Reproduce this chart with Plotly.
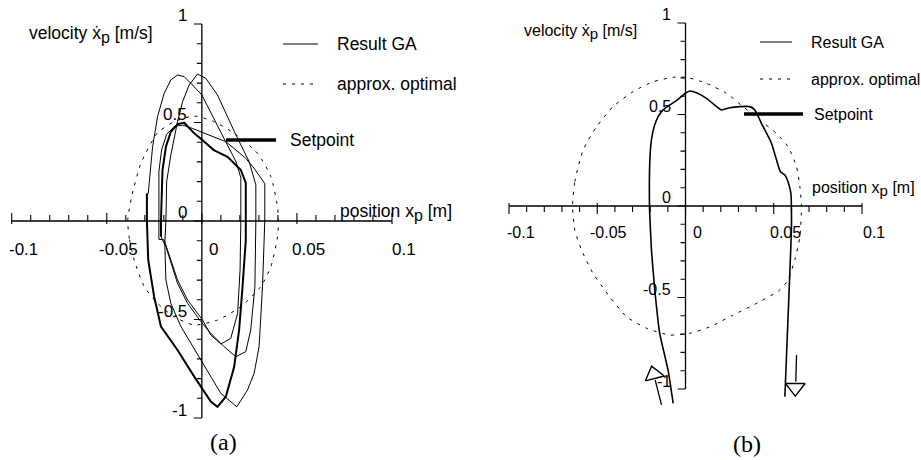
import plotly.graph_objects as go

W, H = 921, 460

# ---------------- data: panel (a) ----------------
# thick part of the GA trajectory (first loop)
a_thick_x = [-0.0215, -0.0215, -0.0207, -0.0189, -0.0163, -0.0128, -0.0093, -0.0040, 0.0004, 0.0063,
             0.0135, 0.0205, 0.0231, 0.0232, 0.0231, 0.0214, 0.0196, 0.0170, 0.0126, 0.0082,
             0.0047, -0.0040, -0.0128, -0.0215, -0.0251, -0.0282, -0.0289, -0.0289]
a_thick_y = [-0.08, 0.0, 0.259, 0.377, 0.453, 0.492, 0.499, 0.445, 0.410, 0.360,
             0.326, 0.259, 0.193, 0.0, -0.10, -0.333, -0.553, -0.740, -0.892, -0.943,
             -0.917, -0.790, -0.655, -0.536, -0.384, -0.198, 0.0, 0.14]
# thin continuation of the GA trajectory
a_thin_x = [-0.0289, -0.0282, -0.0259, -0.0233, -0.0198, -0.0163, -0.0128, -0.0093, -0.0058, 0.0000,
            0.0100, 0.0180, 0.0205, 0.0205, 0.0201, 0.0188, 0.0152, 0.0100, 0.0047, 0.0004,
            -0.0075, -0.0128, -0.0163, -0.0189, -0.0198, -0.0226, -0.0226, -0.0226, -0.0212, -0.0185,
            -0.0145, -0.0101, -0.0050, 0.0020, 0.0080, 0.0126, 0.0179, 0.0231, 0.0275, 0.0310,
            0.0331, 0.0331, 0.0319, 0.0301, 0.0275, 0.0240, 0.0184, 0.0100, -0.0005, -0.0110,
            -0.0163, -0.0189, -0.0195, -0.0189, -0.0185, -0.0163, -0.0128, -0.0101, -0.0067, -0.0023,
            0.0021, 0.0056, 0.0082, 0.0179, 0.0249, 0.0284, 0.0284, 0.0279, 0.0257, 0.0231,
            0.0179, 0.0117, 0.0047, -0.0005, -0.0075, -0.0128, -0.0163, -0.0189, -0.0207, -0.0215]
a_thin_y = [0.14, 0.14, 0.377, 0.530, 0.648, 0.716, 0.741, 0.733, 0.699, 0.640,
            0.450, 0.300, 0.220, 0.0, -0.249, -0.469, -0.596, -0.624, -0.579, -0.503,
            -0.401, -0.299, -0.198, -0.122, -0.096, -0.093, 0.0, 0.250, 0.360, 0.440,
            0.480, 0.487, 0.470, 0.445, 0.420, 0.403, 0.360, 0.318, 0.267, 0.220,
            0.190, 0.0, -0.333, -0.638, -0.773, -0.858, -0.943, -0.875, -0.706, -0.536,
            -0.418, -0.300, -0.113, 0.0, 0.200, 0.335, 0.504, 0.606, 0.690, 0.746,
            0.724, 0.673, 0.640, 0.437, 0.301, 0.183, 0.0, -0.333, -0.553, -0.663,
            -0.689, -0.638, -0.570, -0.511, -0.418, -0.316, -0.215, -0.130, -0.096, -0.08]
# approx. optimal trajectory (a)
a_opt_x = [-0.0390, -0.0380, -0.0356, -0.0303, -0.0233, -0.0146, -0.0040, 0.0082, 0.0205, 0.0310,
           0.0363, 0.0398, 0.0403, 0.0398, 0.0363, 0.0293, 0.0170, 0.0065, -0.0040, -0.0146,
           -0.0233, -0.0320, -0.0370, -0.0390]
a_opt_y = [0.0, -0.096, -0.198, -0.333, -0.418, -0.486, -0.528, -0.503, -0.435, -0.333,
           -0.232, -0.080, 0.0, 0.073, 0.225, 0.344, 0.445, 0.504, 0.533, 0.504,
           0.447, 0.294, 0.120, 0.0]

# ---------------- data: panel (b) ----------------
b_ga_x = [-0.0070, -0.0099, -0.0146, -0.0174, -0.0193, -0.0202, -0.0204, -0.0202, -0.0193, -0.0178,
          -0.0155, -0.0127, -0.0089, -0.0042, 0.0000, 0.0024, 0.0062, 0.0119, 0.0176, 0.0204,
          0.0251, 0.0308, 0.0364, 0.0393, 0.0430, 0.0487, 0.0516, 0.0538, 0.0563, 0.0581,
          0.0597, 0.0600, 0.0600, 0.0591, 0.0563]
b_ga_y = [-1.078, -0.896, -0.696, -0.459, -0.240, -0.058, 0.0, 0.251, 0.361, 0.433,
          0.488, 0.525, 0.552, 0.583, 0.616, 0.628, 0.619, 0.588, 0.543, 0.525,
          0.537, 0.543, 0.543, 0.525, 0.452, 0.343, 0.251, 0.187, 0.169, 0.133,
          0.069, 0.0, -0.131, -0.368, -1.042]
b_opt_x = [-0.0640, -0.0627, -0.0580, -0.0504, -0.0410, -0.0297, -0.0184, -0.0070, 0.0006, 0.0119,
           0.0232, 0.0326, 0.0421, 0.0515, 0.0581, 0.0629, 0.0648, 0.0657, 0.0648, 0.0619,
           0.0581, 0.0534, 0.0421, 0.0270, 0.0138, 0.0024, -0.0089, -0.0221, -0.0334, -0.0429,
           -0.0524, -0.0589, -0.0627, -0.0640]
b_opt_y = [0.0, 0.133, 0.306, 0.433, 0.543, 0.625, 0.679, 0.703, 0.703, 0.670,
           0.616, 0.543, 0.470, 0.397, 0.324, 0.215, 0.105, 0.0, -0.168, -0.295,
           -0.404, -0.459, -0.523, -0.596, -0.660, -0.696, -0.705, -0.668, -0.605, -0.496,
           -0.368, -0.240, -0.131, 0.0]
# direction arrows (b): shaft start, shaft end, head position
b_arrow_up_x = [-0.0136, -0.0172]
b_arrow_up_y = [-1.087, -0.950]
b_arrow_up_head = (-0.0180, -0.9200)
b_arrow_dn_x = [0.0629, 0.0625]
b_arrow_dn_y = [-0.814, -0.960]
b_arrow_dn_head = (0.0622, -0.993)

# ---------------- axes ticks ----------------
x_major = [-0.1, -0.05, 0.0, 0.05, 0.1]
x_major_labels = ["-0.1", "-0.05", "0", "0.05", "0.1"]
y_major = [-1.0, -0.5, 0.0, 0.5, 1.0]
y_major_labels = ["-1", "-0.5", "0", "0.5", "1"]
x_minor = [round(-0.1 + 0.01 * i, 2) for i in range(21)]
y_minor = [round(-1.0 + 0.1 * i, 1) for i in range(21)]

# ---------------- layout geometry (pixels) ----------------
panels = {
    "a": dict(xl=11.7, xr=392.0, yt=24.0, yb=418.0, xdir=1, xlab_dy=29, tick_font=17, xa="x", ya="y"),
    "b": dict(xl=509.0, xr=862.0, yt=23.0, yb=389.0, xdir=-1, xlab_dy=27, tick_font=16, xa="x2", ya="y2"),
}
XR = (-0.106, 0.106)
YR = (-1.16, 1.06)

FONT = "Liberation Sans, Arial, sans-serif"
fig = go.Figure()
layout_axes = {}
annotations = []

for key, p in panels.items():
    sx = (p["xr"] - p["xl"]) / 0.2      # px per x-unit
    sy = (p["yb"] - p["yt"]) / 2.0      # px per y-unit
    x0px = p["xl"] + (XR[0] + 0.1) * sx
    x1px = p["xl"] + (XR[1] + 0.1) * sx
    y1px = p["yt"] - (YR[1] - 1.0) * sy
    y0px = p["yt"] + (1.0 - YR[0]) * sy
    idx = "" if key == "a" else "2"
    layout_axes["xaxis" + idx] = dict(domain=[x0px / W, x1px / W], range=list(XR), visible=False,
                                      anchor="y" + idx, fixedrange=True)
    layout_axes["yaxis" + idx] = dict(domain=[1 - y0px / H, 1 - y1px / H], range=list(YR), visible=False,
                                      anchor="x" + idx, fixedrange=True)
    xa, ya = p["xa"], p["ya"]
    # axis lines
    fig.add_trace(go.Scatter(x=[-0.1, 0.1], y=[0, 0], mode="lines", xaxis=xa, yaxis=ya,
                             line=dict(color="black", width=1.3), hoverinfo="skip", showlegend=False))
    fig.add_trace(go.Scatter(x=[0, 0], y=[-1, 1], mode="lines", xaxis=xa, yaxis=ya,
                             line=dict(color="black", width=1.3), hoverinfo="skip", showlegend=False))
    # ticks
    tx, ty = [], []
    for t in x_minor:
        major = any(abs(t - m) < 1e-9 for m in x_major)
        up = (8 if major else 6) / sy
        dn = (3 if major else 0) / sy
        tx += [t, t, None]
        ty += [p["xdir"] * up, -p["xdir"] * dn, None]
    for t in y_minor:
        major = any(abs(t - m) < 1e-9 for m in y_major)
        ln = (8 if major else 5) / sx
        tx += [0, -ln, None]
        ty += [t, t, None]
    fig.add_trace(go.Scatter(x=tx, y=ty, mode="lines", xaxis=xa, yaxis=ya,
                             line=dict(color="black", width=1.1), hoverinfo="skip", showlegend=False))
    # tick labels
    for t, lab in zip(x_major, x_major_labels):
        annotations.append(dict(x=t, y=0, xref=xa, yref=ya, text=lab, showarrow=False,
                                xanchor="center", yanchor="middle", xshift=11.5, yshift=-p["xlab_dy"],
                                font=dict(family=FONT, size=p["tick_font"], color="black")))
    for t, lab in zip(y_major, y_major_labels):
        annotations.append(dict(x=0, y=t, xref=xa, yref=ya, text=lab, showarrow=False,
                                xanchor="right", yanchor="middle", xshift=-13, yshift=8,
                                font=dict(family=FONT, size=p["tick_font"], color="black")))

# ---------------- traces ----------------
fig.add_trace(go.Scatter(x=a_opt_x, y=a_opt_y, mode="lines", xaxis="x", yaxis="y",
                         line=dict(color="black", width=1, dash="3px,6px", shape="spline", smoothing=0.6),
                         hoverinfo="skip", showlegend=False))
fig.add_trace(go.Scatter(x=a_thin_x, y=a_thin_y, mode="lines", xaxis="x", yaxis="y",
                         line=dict(color="black", width=1), hoverinfo="skip", showlegend=False))
fig.add_trace(go.Scatter(x=a_thick_x, y=a_thick_y, mode="lines", xaxis="x", yaxis="y",
                         line=dict(color="black", width=2), hoverinfo="skip", showlegend=False))

fig.add_trace(go.Scatter(x=b_opt_x, y=b_opt_y, mode="lines", xaxis="x2", yaxis="y2",
                         line=dict(color="black", width=1, dash="3px,6px", shape="spline", smoothing=0.6),
                         hoverinfo="skip", showlegend=False))
fig.add_trace(go.Scatter(x=b_ga_x, y=b_ga_y, mode="lines", xaxis="x2", yaxis="y2",
                         line=dict(color="black", width=1.6, shape="spline", smoothing=0.5),
                         hoverinfo="skip", showlegend=False))
for sxs, sys_, head, sym in [(b_arrow_up_x, b_arrow_up_y, b_arrow_up_head, ("triangle-up-open", -14.6)),
                             (b_arrow_dn_x, b_arrow_dn_y, b_arrow_dn_head, ("triangle-down-open", 0))]:
    fig.add_trace(go.Scatter(x=sxs, y=sys_, mode="lines", xaxis="x2", yaxis="y2",
                             line=dict(color="black", width=1.3), hoverinfo="skip", showlegend=False))
    fig.add_trace(go.Scatter(x=[head[0]], y=[head[1]], mode="markers", xaxis="x2", yaxis="y2",
                             marker=dict(symbol=sym[0], angle=sym[1], size=17, color="black",
                                         line=dict(color="black", width=1.4)),
                             hoverinfo="skip", showlegend=False))

# ---------------- legends / labels (pixel positions) ----------------
def P(px, py):
    return px / W, 1 - py / H

shapes = []
def hline(x0, x1, y, width=1, dash=None):
    a0 = P(x0, y); a1 = P(x1, y)
    ln = dict(color="black", width=width)
    if dash:
        ln["dash"] = dash
    shapes.append(dict(type="line", xref="paper", yref="paper", x0=a0[0], y0=a0[1], x1=a1[0], y1=a1[1], line=ln))

def text(px, py, s, anchor="left", size=16, family=FONT):
    x, y = P(px, py)
    annotations.append(dict(x=x, y=y, xref="paper", yref="paper", text=s, showarrow=False,
                            xanchor=anchor, yanchor="middle", font=dict(family=family, size=size, color="black")))

def subp(size):
    return "<sub><span style='font-size:%dpx'>p</span></sub>" % size

SERIF = "Liberation Serif, Times New Roman, serif"
# panel (a)
FA = 17.5
hline(283, 318, 44)
hline(283, 318, 84, dash="3px,6px")
hline(226, 276, 140, width=3.5)
text(335, 44, "Result GA", size=FA)
text(335, 84, "approx. optimal", size=FA)
text(288, 140, "Setpoint", size=FA)
text(27, 34, "velocity ẋ" + subp(16) + " [m/s]", size=FA)
text(454, 212, "position x" + subp(16) + " [m]", anchor="right", size=FA)
text(223, 442, "(a)", anchor="center", size=24, family=SERIF)
# panel (b)
FB = 16
hline(760, 792, 42)
hline(760, 792, 79, dash="3px,6px")
hline(744, 803, 114, width=3.5)
text(809, 42, "Result GA", size=FB)
text(809, 79, "approx. optimal", size=FB)
text(812, 114, "Setpoint", size=FB)
text(522, 32, "velocity ẋ" + subp(15) + " [m/s]", size=FB)
text(917, 189, "position x" + subp(15) + " [m]", anchor="right", size=FB)
text(747, 444, "(b)", anchor="center", size=24, family=SERIF)

fig.update_layout(width=W, height=H, margin=dict(l=0, r=0, t=0, b=0),
                  paper_bgcolor="white", plot_bgcolor="rgba(0,0,0,0)",
                  showlegend=False, annotations=annotations, shapes=shapes, **layout_axes)
fig.write_html("out.html", config={"displayModeBar": False},
               post_script="document.body.style.margin='0px';")
